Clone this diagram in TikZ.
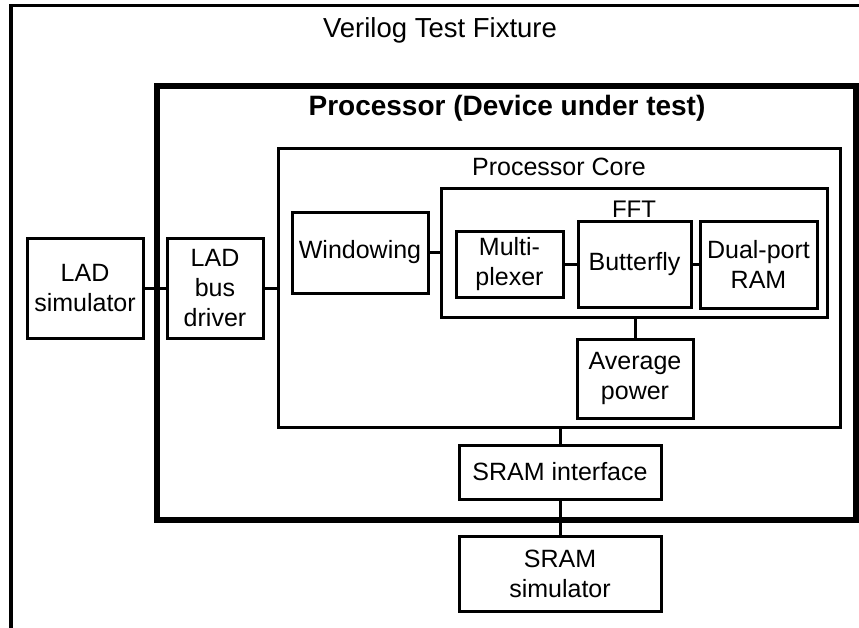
\documentclass[tikz,border=0pt]{standalone}
\usepackage{fontspec}
\setmainfont{Liberation Sans}
\begin{document}
\begin{tikzpicture}[x=1pt,y=-1pt,
  blk/.style={draw,line width=3pt,inner sep=0pt,align=center,font=\fontsize{25}{30}\selectfont},
  cont/.style={draw,line width=3pt,inner sep=0pt},
  wire/.style={line width=3pt},
  ttl/.style={anchor=base,inner sep=0pt}]
\useasboundingbox (0,0) rectangle (859,627);
\clip (0,0) rectangle (859,627);
% containers
\node[cont,line width=3.5pt,minimum width=869pt,minimum height=654.5pt] (fixture) at (445.5,332.75) {};
\node[cont,line width=6pt,minimum width=699pt,minimum height=434pt] (proc) at (506.5,303) {};
\node[cont,minimum width=562pt,minimum height=279pt] (core) at (559,287.5) {};
\node[cont,minimum width=386pt,minimum height=129pt] (fft) at (634,252.5) {};
% titles
\node[ttl,font=\fontsize{27.5}{30}\selectfont] (tfix) at (440,37) {Verilog Test Fixture};
\node[ttl,font=\fontsize{28}{30}\selectfont\bfseries] (tproc) at (507,115) {Processor (Device under test)};
\node[ttl,font=\fontsize{25}{30}\selectfont] (tcore) at (559,175) {Processor Core};
\node[ttl,font=\fontsize{24}{30}\selectfont] (tfft) at (634,217) {FFT};
% blocks
\node[blk,minimum width=116pt,minimum height=100pt] (ladsim) at (85,288) {LAD\\simulator};
\node[blk,minimum width=96pt,minimum height=100pt] (busdrv) at (215,288) {LAD\\bus\\driver};
\node[blk,minimum width=136pt,minimum height=81pt] (win) at (360,252.5) {Windowing};
\node[blk,minimum width=107pt,minimum height=66pt] (mux) at (509.5,264) {Multi-\\plexer};
\node[blk,minimum width=113pt,minimum height=86pt] (bfly) at (634.5,264) {Butterfly};
\node[blk,minimum width=117pt,minimum height=87pt] (ram) at (758.5,264.5) {Dual-port\\RAM};
\node[blk,minimum width=116pt,minimum height=79pt] (avg) at (635,378.5) {Average\\power};
\node[blk,minimum width=202pt,minimum height=54pt] (sramif) at (560,472) {SRAM interface};
\node[blk,minimum width=202pt,minimum height=75pt] (sramsim) at (560,573.5) {SRAM\\simulator};
% wires
\draw[wire] (ladsim.east) -- (busdrv.west);
\draw[wire] (busdrv.east) -- (busdrv.east -| core.west);
\draw[wire] (win.east) -- (win.east -| fft.west);
\draw[wire] (mux.east) -- (mux.east -| bfly.west);
\draw[wire] (bfly.east) -- (bfly.east -| ram.west);
\draw[wire] (avg.north) -- (avg.north |- fft.south);
\draw[wire] (sramif.north) -- (sramif.north |- core.south);
\draw[wire] (sramif.south) -- (sramsim.north);
\end{tikzpicture}
\end{document}
